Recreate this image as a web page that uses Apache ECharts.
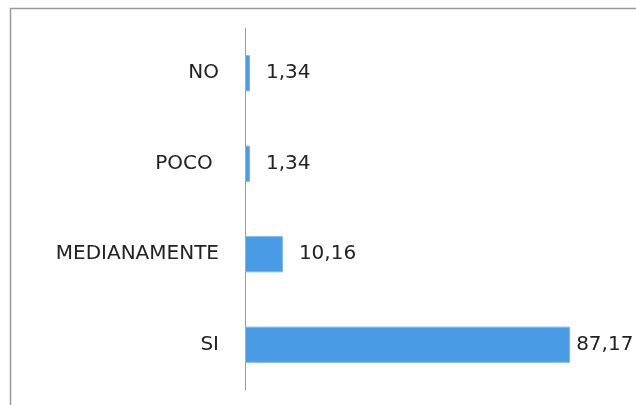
<!DOCTYPE html>
<html>
<head>
<meta charset="utf-8">
<script src="https://cdn.jsdelivr.net/npm/echarts@6/dist/echarts.min.js"></script>
<style>
  html, body { margin: 0; padding: 0; background: #fff; }
  #chart { width: 636px; height: 405px; }
</style>
</head>
<body>
<div id="chart"></div>
<script>
// categories bottom -> top (category axis on y starts at bottom)
const categories = ["SI", "MEDIANAMENTE", "POCO ", "NO"];
const values = [87.17, 10.16, 1.34, 1.34];

const chart = echarts.init(document.getElementById("chart"));

// long bar's label sits closer to the bar end
const seriesData = values.map(v => ({
  value: v,
  label: { distance: v < 50 ? 16 : 6 }
}));

chart.setOption({
  animation: false,
  graphic: [{
    type: "rect",
    shape: { x: 10.5, y: 8.5, width: 700, height: 500 },
    style: { fill: "none", stroke: "#9a9a9a", lineWidth: 1.5 },
    silent: true
  }],
  grid: { left: 245, right: 18, top: 28, bottom: 15 },
  xAxis: {
    type: "value",
    min: 0,
    max: 100,
    show: false
  },
  yAxis: {
    type: "category",
    data: categories,
    axisLine: { show: true, lineStyle: { color: "#9a9a9a", width: 1 } },
    axisTick: { show: false },
    axisLabel: {
      margin: 26,
      fontFamily: "DejaVu Sans",
      fontSize: 20,
      color: "#222"
    }
  },
  series: [{
    type: "bar",
    data: seriesData,
    barWidth: "40%",
    itemStyle: { color: "#4a9be6", borderColor: "#7ab6ee", borderWidth: 1 },
    label: {
      show: true,
      position: "right",
      fontFamily: "DejaVu Sans",
      fontSize: 20,
      color: "#222",
      formatter: p => p.value.toFixed(2).replace(".", ",")
    }
  }]
});
</script>
</body>
</html>
